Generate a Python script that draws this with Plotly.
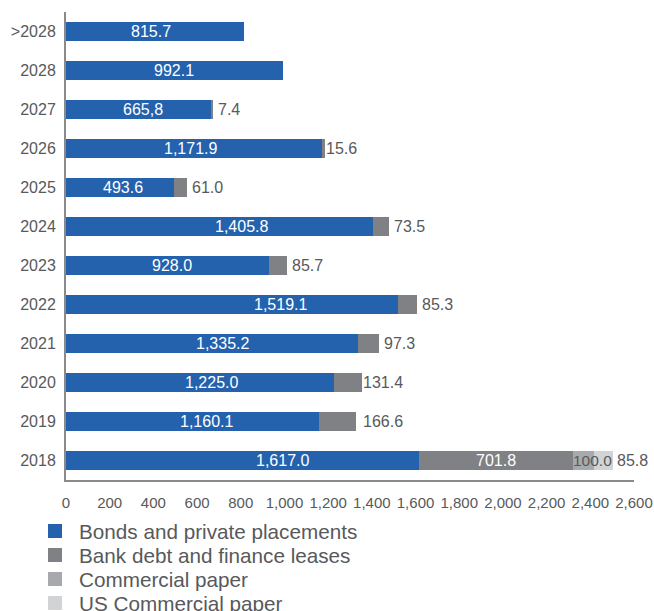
import plotly.graph_objects as go

years = [">2028", "2028", "2027", "2026", "2025", "2024", "2023", "2022", "2021", "2020", "2019", "2018"]
bonds = [815.7, 992.1, 665.8, 1171.9, 493.6, 1405.8, 928.0, 1519.1, 1335.2, 1225.0, 1160.1, 1617.0]
bank = [0, 0, 7.4, 15.6, 61.0, 73.5, 85.7, 85.3, 97.3, 131.4, 166.6, 701.8]
cp = [0, 0, 0, 0, 0, 0, 0, 0, 0, 0, 0, 100.0]
uscp = [0, 0, 0, 0, 0, 0, 0, 0, 0, 0, 0, 85.8]
bonds_labels = ["815.7", "992.1", "665,8", "1,171.9", "493.6", "1,405.8", "928.0",
                "1,519.1", "1,335.2", "1,225.0", "1,160.1", "1,617.0"]
bank_labels = ["", "", "7.4", "15.6", "61.0", "73.5", "85.7", "85.3", "97.3", "131.4", "166.6", "701.8"]
cp_labels = ["", "", "", "", "", "", "", "", "", "", "", "100.0"]
uscp_labels = ["", "", "", "", "", "", "", "", "", "", "", "85.8"]
series_names = ["Bonds and private placements", "Bank debt and finance leases",
                "Commercial paper", "US Commercial paper"]
x_ticks = list(range(0, 2601, 200))
x_tick_text = ["{:,}".format(v) for v in x_ticks]

# label placement styling (pixel shifts)
bond_shift = [-4, 0, 4, -4, 3, 22, 5, 49, 11, 12, 14, 40]
end_gap = [4, 4, 4, 0, 4, 4, 4, 4, 4, 0, 6, 3]

BLUE = "#2462AE"
DARK = "#808184"
MID = "#A7A9AC"
LIGHT = "#D1D3D4"
TXT = "#58595B"
FONT = "Liberation Sans, Arial, sans-serif"
colors = [BLUE, DARK, MID, LIGHT]

# plot area in pixels (for the hand-drawn legend)
W, H = 654, 611
ML, MR, MT, MB = 66, 20, 12, 131
PW, PH = W - ML - MR, H - MT - MB

fig = go.Figure()
for name, vals, col in zip(series_names, [bonds, bank, cp, uscp], colors):
    fig.add_trace(go.Bar(y=years, x=vals, name=name, orientation="h",
                         marker=dict(color=col, line=dict(width=0)), width=0.49,
                         hoverinfo="skip", showlegend=False))

LBL = 16
ann = []
for i, y in enumerate(years):
    ann.append(dict(x=bonds[i] / 2, y=i, text=bonds_labels[i], showarrow=False,
                    xshift=bond_shift[i], font=dict(color="white", size=LBL, family=FONT)))
    total = bonds[i] + bank[i] + cp[i] + uscp[i]
    if cp[i] > 0:
        ann.append(dict(x=bonds[i] + bank[i] / 2, y=i, text=bank_labels[i], showarrow=False,
                        font=dict(color="white", size=LBL, family=FONT)))
        ann.append(dict(x=bonds[i] + bank[i], y=i, text=cp_labels[i], showarrow=False,
                        xanchor="left", xshift=-2, font=dict(color=TXT, size=15.5, family=FONT)))
        ann.append(dict(x=total, y=i, text=uscp_labels[i], showarrow=False,
                        xanchor="left", xshift=end_gap[i] - 1, font=dict(color=TXT, size=LBL, family=FONT)))
    elif bank_labels[i]:
        ann.append(dict(x=total, y=i, text=bank_labels[i], showarrow=False,
                        xanchor="left", xshift=end_gap[i] - 1, font=dict(color=TXT, size=LBL, family=FONT)))

# hand-drawn legend (squares + names) below the plot
shapes = []
leg_x0, leg_sq, leg_text_x, leg_y0, leg_step = 48, 14, 78, 531, 24
for k, (name, col) in enumerate(zip(series_names, colors)):
    cy = leg_y0 + k * leg_step
    shapes.append(dict(type="rect", xref="paper", yref="paper",
                       x0=(leg_x0 - ML) / PW, x1=(leg_x0 + leg_sq - ML) / PW,
                       y0=(MT + PH - (cy - leg_sq / 2)) / PH, y1=(MT + PH - (cy + leg_sq / 2)) / PH,
                       fillcolor=col, line=dict(width=0)))
    ann.append(dict(xref="paper", yref="paper", x=(leg_text_x - ML) / PW,
                    y=(MT + PH - cy) / PH, text=name, showarrow=False, xanchor="left",
                    yanchor="middle", xshift=-1, font=dict(size=20.7, family=FONT, color=TXT)))

fig.update_layout(
    width=W, height=H,
    barmode="stack",
    plot_bgcolor="white", paper_bgcolor="white",
    margin=dict(l=ML, r=MR, t=MT, b=MB, autoexpand=False),
    annotations=ann, shapes=shapes,
    showlegend=False,
    xaxis=dict(range=[0, 2600], tickvals=x_ticks, ticktext=x_tick_text, showgrid=False,
               zeroline=False, showline=True, linecolor="#8A8A8C", linewidth=2,
               ticks="outside", ticklen=8, tickcolor="rgba(0,0,0,0)", tickangle=0,
               tickfont=dict(size=15, family=FONT, color=TXT), fixedrange=True),
    yaxis=dict(type="category", categoryorder="array", categoryarray=years,
               autorange=False, range=[11.5, -0.5], showgrid=False, zeroline=False,
               showline=True, linecolor="#8A8A8C", linewidth=2, ticks="outside", ticklen=5,
               tickcolor="rgba(0,0,0,0)", tickfont=dict(size=16, family=FONT, color=TXT)),
)
fig.write_html("out.html")
